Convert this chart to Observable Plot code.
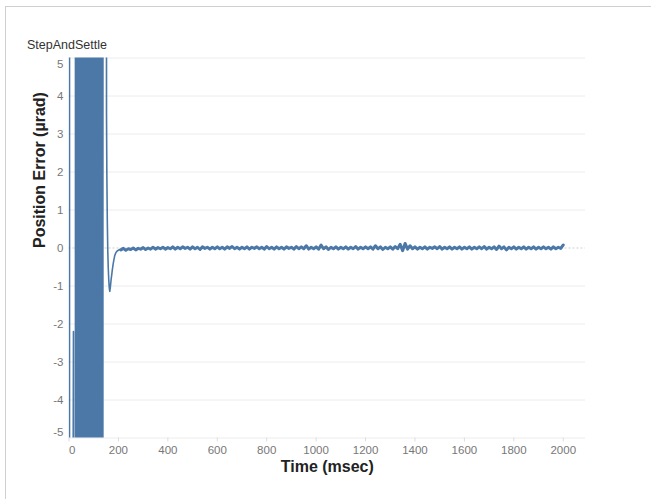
<!DOCTYPE html>
<html><head><meta charset="utf-8">
<script src="https://cdn.jsdelivr.net/npm/d3@7"></script>
<script src="https://cdn.jsdelivr.net/npm/@observablehq/plot@0.6"></script>
<style>
html,body{margin:0;padding:0;background:#fff;}
#wrap{position:relative;width:651px;height:499px;overflow:hidden;font-family:"Liberation Sans",Arial,sans-serif;}
#frame{position:absolute;left:5px;top:6px;width:700px;height:600px;border-top:1px solid #cfcfcf;border-left:1px solid #cfcfcf;}
#title{position:absolute;left:27px;top:38px;font-size:12.5px;line-height:14px;color:#333;}
#chart{position:absolute;left:0;top:0;}
</style></head>
<body>
<div id="wrap"><div id="frame"></div><div id="chart"></div><div id="title">StepAndSettle</div></div>
<script>
const chartTitle = "StepAndSettle";
const xTitle = "Time (msec)";
const yTitle = "Position Error (µrad)";
const xTicks = [0, 200, 400, 600, 800, 1000, 1200, 1400, 1600, 1800, 2000];
const yTicks = [-5, -4, -3, -2, -1, 0, 1, 2, 3, 4, 5];

// initial step transient (values beyond ±5 are clipped)
const leadTimes  = [2, 2.2, 18, 18.3, 26];
const leadValues = [50, -50, -2.2, -50, -50];

// dense oscillation burst, sampled every 2 ms from 26.2 ms
const burstStart = 26.2, burstStep = 2;
const burstValues = [50,-50,50,-50,50,-50,50,-50,50,-50,50,-50,50,-50,50,-50,50,-50,50,-50,
  50,-50,50,-50,50,-50,50,-50,50,-50,50,-50,50,-50,50,-50,50,-50,50,-50,
  50,-50,50,-50,50,-50,50,-50,50,-50,50,-50,50,-50,50,-50,50];

// settling (undershoot and recovery)
const settleTimes  = [150, 151.8, 153.2, 155, 157, 159, 161, 163, 165, 167, 169, 171, 173, 175, 178, 181, 185, 190, 195, 200, 205];
const settleValues = [50, 3.5, 1.9, 0.72, -0.1, -0.55, -0.85, -1.05, -1.14, -1.05, -0.92, -0.8, -0.7, -0.59, -0.45, -0.33, -0.2, -0.12, -0.08, -0.06, -0.04];

// steady-state noise, sampled every 10 ms from 210 ms to 2000 ms
const noiseStart = 210, noiseStep = 10;
const noiseValues = [
  -0.05,-0.01,-0.06,-0.02,-0.04,0.00,-0.05,-0.01,-0.03,0.01,-0.04,0.00,-0.03,0.02,-0.03,0.01,-0.02,0.02,-0.03,0.01,
  -0.02,0.03,-0.03,0.02,-0.02,0.03,-0.01,0.02,-0.03,0.03,-0.02,0.02,-0.04,0.03,-0.01,0.02,-0.03,0.02,-0.02,0.03,
  -0.02,0.02,-0.03,0.03,-0.01,0.04,-0.02,0.02,-0.03,0.02,-0.02,0.03,-0.03,0.02,-0.01,0.03,-0.02,0.02,-0.03,0.04,
  -0.02,0.02,-0.03,0.03,-0.02,0.02,-0.03,0.03,-0.01,0.02,-0.03,0.04,-0.02,0.03,-0.02,0.06,-0.03,0.02,-0.02,0.03,
  -0.03,0.08,-0.02,0.03,-0.04,0.02,-0.02,0.03,-0.03,0.02,-0.02,0.03,-0.03,0.02,-0.02,0.04,-0.03,0.02,-0.02,0.03,
  -0.02,0.03,-0.03,0.06,-0.02,0.03,-0.04,0.02,-0.02,0.03,-0.03,0.04,-0.02,0.10,-0.07,0.12,-0.03,0.06,-0.02,0.03,
  -0.03,0.02,-0.02,0.03,-0.03,0.02,-0.01,0.03,-0.02,0.04,-0.03,0.02,-0.02,0.03,-0.03,0.02,-0.02,0.03,-0.03,0.02,
  -0.02,0.03,-0.03,0.02,-0.02,0.03,-0.02,0.04,-0.03,0.02,-0.02,0.03,-0.04,0.05,-0.02,0.03,-0.05,0.02,-0.02,0.03,
  -0.03,0.02,-0.02,0.03,-0.03,0.02,-0.02,0.03,-0.03,0.02,-0.02,0.03,-0.02,0.02,-0.03,0.03,-0.02,0.02,-0.01,0.08];

const series = [];
leadTimes.forEach((t, i) => series.push({t, v: leadValues[i]}));
burstValues.forEach((v, i) => series.push({t: burstStart + i * burstStep, v}));
settleTimes.forEach((t, i) => series.push({t, v: settleValues[i]}));
const noise = noiseValues.map((v, i) => ({t: noiseStart + i * noiseStep, v}));
series.push(...noise.slice(0, 1));

document.getElementById("title").textContent = chartTitle;

const tickFill = "#777";
const fmt = d => String(d);
const chart = Plot.plot({
  width: 651, height: 499,
  marginTop: 57.5, marginBottom: 61.5, marginLeft: 68.5, marginRight: 66,
  style: {fontFamily: "'Liberation Sans', Arial, sans-serif", fontSize: "11.5px", background: "transparent", overflow: "visible"},
  x: {domain: [0, 2090]},
  y: {domain: [-5, 5]},
  marks: [
    Plot.ruleY(yTicks.filter(d => d !== 0), {stroke: "#ececec"}),
    Plot.ruleY([0], {stroke: "#cfcfcf", strokeDasharray: "2,2"}),
    Plot.axisX(xTicks.filter(d => d !== 0), {tickSize: 4, tickPadding: 3.5, stroke: "#ddd", fill: tickFill, label: null, tickFormat: fmt}),
    Plot.axisX([0], {tickSize: 4, tickPadding: 3.5, stroke: "#ddd", fill: tickFill, textAnchor: "start", label: null, tickFormat: fmt}),
    Plot.axisY(yTicks.filter(d => Math.abs(d) !== 5), {tickSize: 0, tickPadding: 5.5, fill: tickFill, label: null, tickFormat: fmt}),
    Plot.axisY([5], {tickSize: 0, tickPadding: 5.5, fill: tickFill, dy: 6, label: null, tickFormat: fmt}),
    Plot.axisY([-5], {tickSize: 0, tickPadding: 5.5, fill: tickFill, dy: -6, label: null, tickFormat: fmt}),
    Plot.line(series, {x: "t", y: "v", stroke: "#4c78a8", strokeWidth: 1.6, clip: true}),
    Plot.line(noise, {x: "t", y: "v", stroke: "#4c78a8", strokeWidth: 3, clip: true}),
    Plot.text([xTitle], {frameAnchor: "bottom", dy: 34, fontSize: 16, fontWeight: "bold", fill: "#222"}),
    Plot.text([yTitle], {frameAnchor: "left", dx: -29, rotate: -90, fontSize: 16, fontWeight: "bold", fill: "#222"})
  ]
});
document.getElementById("chart").appendChild(chart);
</script>
</body></html>
